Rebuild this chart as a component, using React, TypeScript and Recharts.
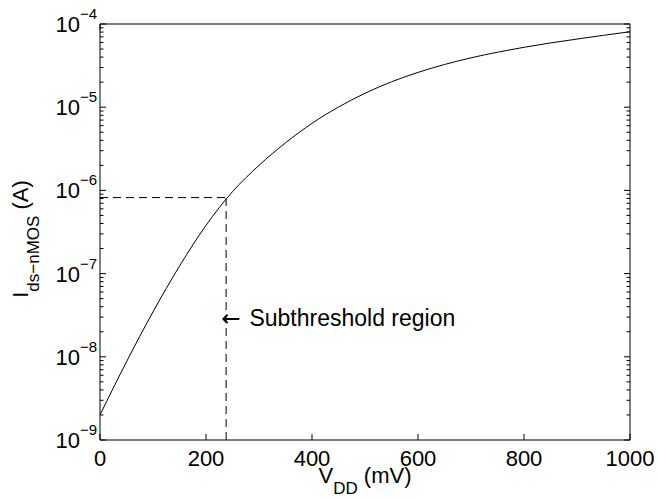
import React from "react";
import {
  LineChart,
  Line,
  XAxis,
  YAxis,
  ReferenceLine,
  ReferenceDot,
} from "recharts";

// drain voltage (mV) and drain current (A)
const vdd = [
  0, 50, 100, 150, 200, 250, 300, 350, 400, 450, 500, 550, 600, 650, 700, 750,
  800, 850, 900, 950, 1000,
];
const ids = [
  2.0e-9, 8.71e-9, 3.47e-8, 1.23e-7, 3.8e-7, 9.66e-7, 2.0e-6, 3.73e-6, 6.4e-6,
  1.005e-5, 1.47e-5, 2.02e-5, 2.62e-5, 3.26e-5, 3.92e-5, 4.58e-5, 5.25e-5,
  5.92e-5, 6.59e-5, 7.31e-5, 8.07e-5,
];

const xTicks = [0, 200, 400, 600, 800, 1000];
const yDecades = [-9, -8, -7, -6, -5, -4];
const minorSteps = [1, 2, 3, 4, 5, 6, 7, 8, 9];

// subthreshold boundary marker
const thresholdV = 238;
const thresholdI = 8.2e-7;
const annotationI = 2.85e-8;
const annotationArrow = "\u2190";
const annotationText = "Subthreshold region";

const FONT = "'Liberation Sans', Arial, Helvetica, sans-serif";

const yTicks: number[] = [];
yDecades.forEach((d, i) => {
  if (i === yDecades.length - 1) {
    yTicks.push(Math.pow(10, d));
  } else {
    minorSteps.forEach((m) => yTicks.push(m * Math.pow(10, d)));
  }
});

const chartData = vdd.map((v, i) => ({ v, i: ids[i] }));

const isDecade = (v: number) => {
  const e = Math.log10(v);
  return Math.abs(e - Math.round(e)) < 1e-6;
};

const LeftTick = (props: any) => {
  const { x, y, payload } = props;
  const major = isDecade(payload.value);
  const exp = Math.round(Math.log10(payload.value));
  return (
    <g>
      <line x1={x + 3} x2={x + 3 + (major ? 6 : 3.5)} y1={y} y2={y} stroke="#000" />
      {major && (
        <text x={x} y={y + 8} textAnchor="end" fontSize={22} fontFamily={FONT} fill="#000">
          10
          <tspan dy={-13} fontSize={15}>
            {"\u2212" + Math.abs(exp)}
          </tspan>
        </text>
      )}
    </g>
  );
};

const RightTick = (props: any) => {
  const { x, y, payload } = props;
  const major = isDecade(payload.value);
  return <line x1={x} x2={x - (major ? 6 : 3.5)} y1={y} y2={y} stroke="#000" />;
};

const BottomTick = (props: any) => {
  const { x, y, payload } = props;
  return (
    <g>
      <line x1={x} x2={x} y1={y} y2={y - 6} stroke="#000" />
      <text x={x} y={y + 26} textAnchor="middle" fontSize={22} fontFamily={FONT} fill="#000">
        {payload.value}
      </text>
    </g>
  );
};

const TopTick = (props: any) => {
  const { x, y } = props;
  return <line x1={x} x2={x} y1={y} y2={y + 6} stroke="#000" />;
};

const XTitle = (props: any) => {
  const { x, y, width } = props.viewBox;
  return (
    <text x={x + width / 2} y={y + 43} textAnchor="middle" fontSize={22} fontFamily={FONT} fill="#000">
      V
      <tspan dy={11} fontSize={17}>
        DD
      </tspan>
      <tspan dy={-11}> (mV)</tspan>
    </text>
  );
};

const YTitle = (props: any) => {
  const { x, y, height } = props.viewBox;
  const cx = x + 28;
  const cy = y + height / 2 + 7;
  return (
    <text
      x={cx}
      y={cy}
      transform={`rotate(-90, ${cx}, ${cy})`}
      textAnchor="middle"
      fontSize={22}
      fontFamily={FONT}
      fill="#000"
    >
      I
      <tspan dy={11} fontSize={17}>
        ds{"\u2212"}nMOS
      </tspan>
      <tspan dy={-11}> (A)</tspan>
    </text>
  );
};

const Annotation = (props: any) => {
  const { x, y } = props.viewBox;
  return (
    <text x={x - 4} y={y + 8} fontSize={23} fontFamily={FONT} fill="#000">
      <tspan fontFamily="'DejaVu Sans', sans-serif">{annotationArrow}</tspan>
      <tspan dx={9}>{annotationText}</tspan>
    </text>
  );
};

export default function App() {
  return (
    <div
      style={{
        position: "absolute",
        left: 0,
        top: 0,
        width: 657,
        height: 499,
        background: "#fff",
      }}
    >
      <LineChart
        width={657}
        height={499}
        data={chartData}
        margin={{ top: 0, right: 0, left: 0, bottom: 0 }}
      >
        <XAxis
          dataKey="v"
          type="number"
          domain={[0, 1000]}
          ticks={xTicks}
          interval={0}
          height={59}
          tickSize={0}
          tickMargin={0}
          tickLine={false}
          tick={<BottomTick />}
          axisLine={{ stroke: "#000" }}
          allowDataOverflow
          label={<XTitle />}
        />
        <XAxis
          xAxisId="top"
          orientation="top"
          type="number"
          domain={[0, 1000]}
          ticks={xTicks}
          interval={0}
          height={24}
          tickSize={0}
          tickMargin={0}
          tickLine={false}
          tick={<TopTick />}
          axisLine={{ stroke: "#000" }}
          allowDataOverflow
        />
        <YAxis
          scale="log"
          type="number"
          domain={[1e-9, 1e-4]}
          ticks={yTicks}
          interval={0}
          width={100}
          tickSize={0}
          tickMargin={3}
          tickLine={false}
          tick={<LeftTick />}
          axisLine={{ stroke: "#000" }}
          allowDataOverflow
          label={<YTitle />}
        />
        <YAxis
          yAxisId="right"
          orientation="right"
          scale="log"
          type="number"
          domain={[1e-9, 1e-4]}
          ticks={yTicks}
          interval={0}
          width={27}
          tickSize={0}
          tickMargin={0}
          tickLine={false}
          tick={<RightTick />}
          axisLine={{ stroke: "#000" }}
          allowDataOverflow
        />
        <ReferenceLine
          segment={[
            { x: 0, y: thresholdI },
            { x: thresholdV, y: thresholdI },
          ]}
          stroke="#000"
          strokeDasharray="8 5"
        />
        <ReferenceLine
          segment={[
            { x: thresholdV, y: 1e-9 },
            { x: thresholdV, y: thresholdI },
          ]}
          stroke="#000"
          strokeDasharray="8 5"
        />
        <ReferenceDot
          x={thresholdV}
          y={annotationI}
          r={1}
          fill="none"
          stroke="none"
          label={<Annotation />}
        />
        <Line
          type="monotone"
          dataKey="i"
          stroke="#000"
          strokeWidth={1}
          dot={false}
          isAnimationActive={false}
        />
      </LineChart>
    </div>
  );
}
